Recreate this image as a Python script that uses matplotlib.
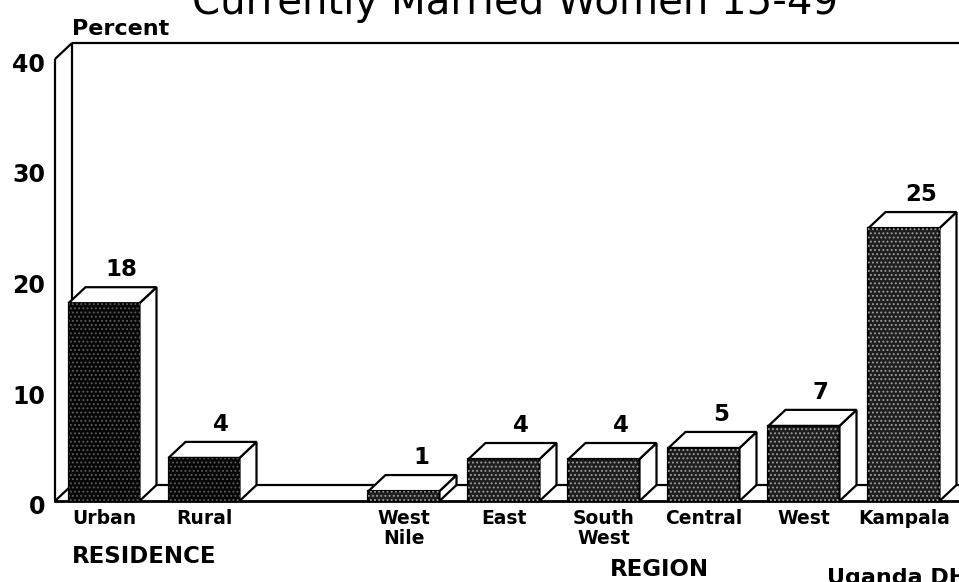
import matplotlib
matplotlib.use("Agg")
import matplotlib.pyplot as plt
from matplotlib.patches import Polygon
from matplotlib.transforms import ScaledTranslation

# ---------------- data ----------------
title = "Currently Married Women 15-49"
y_label = "Percent"
residence_labels = ["Urban", "Rural"]
residence_values = [17.9, 3.9]
region_labels = ["West\nNile", "East", "South\nWest", "Central", "West", "Kampala"]
region_values = [0.9, 3.8, 3.8, 4.8, 6.8, 24.7]
group_names = ["RESIDENCE", "REGION"]
source_text = "Uganda DHS 1988-89"
y_ticks = [0, 10, 20, 30, 40]

# ---------------- layout ----------------
W, H = 959, 582
plt.rcParams["font.family"] = ["DejaVu Sans"]
plt.rcParams["hatch.linewidth"] = 0.9
fig = plt.figure(figsize=(W / 100, H / 100), dpi=100)

def fx(px):
    return px / W

def fy(py):
    return 1 - py / H

ax = fig.add_axes([fx(55), fy(501), fx(959 - 55), (501 - 59) / H])
ax.set_xlim(-0.49, 8.55)
ax.set_ylim(0, 40)
for s in ax.spines.values():
    s.set_visible(False)

# depth offset of the 3-D effect (data units)
dx = 0.17
dy = 16 / 11.05
bar_w = 0.71
lw = 1.6
xmin, xmax = -0.49, 9.5

# positions: residence at 0,1 ; one empty slot ; then regions
pos_res = list(range(len(residence_labels)))
pos_reg = [len(residence_labels) + 1 + i for i in range(len(region_labels))]
positions = pos_res + pos_reg
values = residence_values + region_values
labels = residence_labels + region_labels
faces = ["#050505"] * len(residence_values) + ["#1e1e1e"] * len(region_values)
dots = ["#5a5a5a"] * len(residence_values) + ["#9a9a9a"] * len(region_values)

# frame / walls / floor
kw = dict(color="black", lw=lw, clip_on=False, zorder=1, solid_capstyle="butt")
ax.plot([xmin, xmin], [0, 40], **kw)
ax.plot([xmin, xmin + dx], [40, 40 + dy], **kw)
ax.plot([xmin + dx, xmin + dx], [dy, 40 + dy], **kw)
ax.plot([xmin + dx, xmax], [40 + dy, 40 + dy], **kw)
ax.plot([xmin, xmin + dx], [0, dy], **kw)
ax.plot([xmin + dx, xmax], [dy, dy], **kw)
ax.plot([xmin, xmax], [0, 0], color="black", lw=lw + 0.4, clip_on=False, zorder=1)

# front faces of bars
ax.bar(positions, values, width=bar_w, color=faces, edgecolor="black",
       linewidth=lw, zorder=3, clip_on=False)
for p, v, c in zip(positions, values, dots):
    ax.bar([p], [v], width=bar_w, fill=False, hatch="....", edgecolor=c,
           linewidth=0, zorder=3.5, clip_on=False)

# side and top faces + value labels
for p, v in zip(positions, values):
    xl, xr = p - bar_w / 2, p + bar_w / 2
    side = Polygon([(xr, 0), (xr + dx, dy), (xr + dx, v + dy), (xr, v)],
                   closed=True, facecolor="white", edgecolor="black",
                   linewidth=lw, zorder=3, clip_on=False, joinstyle="miter")
    top = Polygon([(xl, v), (xl + dx, v + dy), (xr + dx, v + dy), (xr, v)],
                  closed=True, facecolor="white", edgecolor="black",
                  linewidth=lw, zorder=3, clip_on=False, joinstyle="miter")
    ax.add_patch(side)
    ax.add_patch(top)
    ax.text(p + dx, v + dy + 1.0, f"{round(v)}", ha="center", va="baseline",
            fontsize=16.5, fontweight="bold", zorder=5)

# axes ticks
ax.set_yticks(y_ticks)
ax.set_yticklabels([str(t) for t in y_ticks], fontsize=17, fontweight="bold")
ax.tick_params(axis="y", length=0, pad=7)
off = ScaledTranslation(0, -3.5 / 100, fig.dpi_scale_trans)
for t in ax.get_yticklabels():
    t.set_transform(t.get_transform() + off)

ax.set_xticks(positions)
ax.set_xticklabels(labels, fontsize=13.5, fontweight="bold", linespacing=1.05)
ax.tick_params(axis="x", length=0, pad=6)

# texts
fig.text(fx(515), fy(14), title, ha="center", va="baseline", fontsize=29)
fig.text(fx(72), fy(35), y_label, ha="left", va="baseline", fontsize=16,
         fontweight="bold")
fig.text(fx(72), fy(563), group_names[0], ha="left", va="baseline",
         fontsize=16.5, fontweight="bold")
fig.text(fx(659), fy(576), group_names[1], ha="center", va="baseline",
         fontsize=16.5, fontweight="bold")
fig.text(fx(827), fy(584), source_text, ha="left", va="baseline",
         fontsize=16, fontweight="bold")

fig.savefig("out.png", dpi=100)
